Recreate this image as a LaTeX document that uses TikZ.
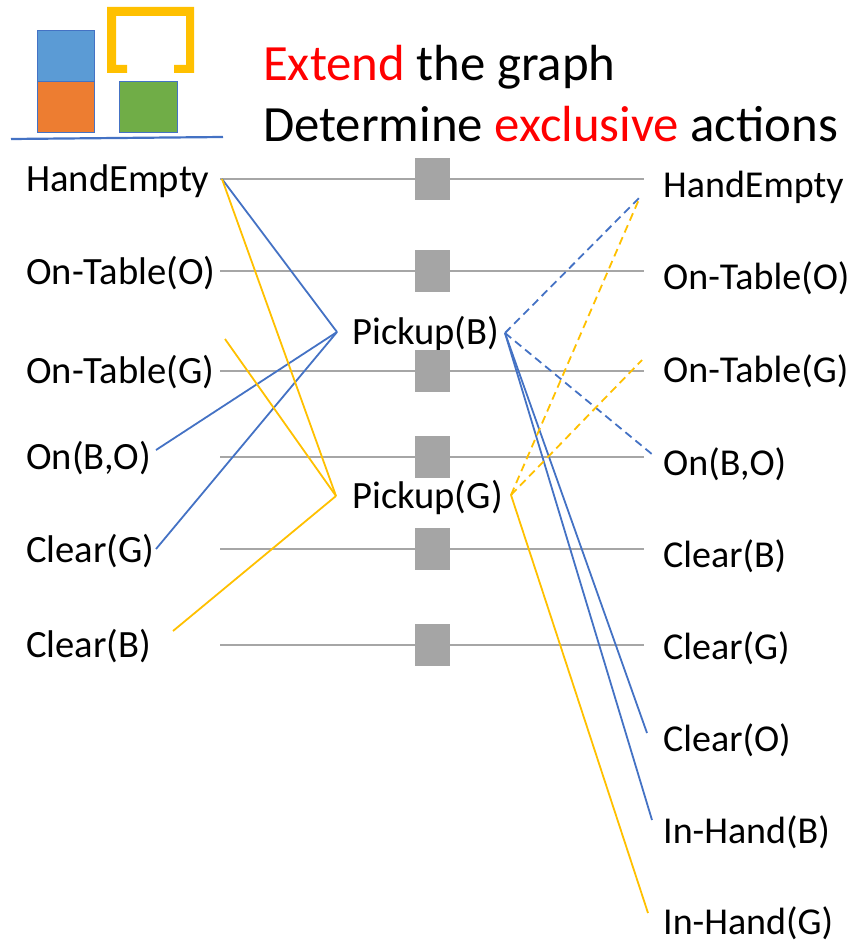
\documentclass[tikz,border=0pt]{standalone}
\usepackage{fontspec}
\setmainfont{Carlito}
\definecolor{edgeblue}{HTML}{4472C4}
\definecolor{edgegold}{HTML}{FFC000}
\definecolor{rulegray}{HTML}{A6A6A6}
\definecolor{boxgray}{HTML}{A5A5A5}
\definecolor{blockblue}{HTML}{5B9BD5}
\definecolor{blockorange}{HTML}{ED7D31}
\definecolor{blockgreen}{HTML}{70AD47}
\definecolor{hilite}{HTML}{FF0000}

\tikzset{
  fact/.style={anchor=base west, inner sep=0pt, font=\fontsize{38.6}{40}\selectfont},
  factR/.style={anchor=base west, inner sep=0pt, font=\fontsize{38}{40}\selectfont},
  headline/.style={anchor=base west, inner sep=0pt, font=\fontsize{50.8}{54}\selectfont},
  noop/.style={fill=boxgray, minimum width=35pt, minimum height=42pt, inner sep=0pt},
  persist/.style={draw=rulegray, line width=2.3pt},
  bluelink/.style={draw=edgeblue, line width=1.8pt},
  goldlink/.style={draw=edgegold, line width=1.8pt},
  mutex/.style={dash pattern=on 8pt off 5pt},
  block/.style={draw=edgeblue, line width=1pt},
}

\begin{document}
\begin{tikzpicture}[x=1pt, y=-1pt]
\useasboundingbox (0,0) rectangle (855,944);

% ---- blocks world sketch ----
\fill[blockblue] (37,31) rectangle (94,82);
\draw[block] (37,31) rectangle (94,82);
\fill[blockorange] (37,82) rectangle (94,133);
\draw[block] (37,82) rectangle (94,133);
\fill[blockgreen] (119,82) rectangle (177,133);
\draw[block] (119,82) rectangle (177,133);
\fill[edgegold] (107,7) -- (194,7) -- (194,73) -- (174,73) -- (174,65) -- (186,65)
  -- (186,16) -- (116,16) -- (116,65) -- (127,65) -- (127,73) -- (107,73) -- cycle;
\draw[draw=edgeblue, line width=2.2pt] (11,139) -- (223,137);

% ---- headline ----
\node[headline] (t1) at (263,81) {\textcolor{hilite}{Extend} the graph};
\node[headline] (t2) at (263,142) {Determine \textcolor{hilite}{exclusive} actions};

% ---- level 0 facts ----
\node[fact] (l1) at (26,192) {HandEmpty};
\node[fact] (l2) at (26,284) {On-Table(O)};
\node[fact] (l3) at (26,383) {On-Table(G)};
\node[fact] (l4) at (26,469) {On(B,O)};
\node[fact] (l5) at (26,562) {Clear(G)};
\node[fact] (l6) at (26,657) {Clear(B)};

% ---- level 1 facts ----
\node[factR] (r1) at (663,197) {HandEmpty};
\node[factR] (r2) at (663,289) {On-Table(O)};
\node[factR] (r3) at (663,382) {On-Table(G)};
\node[factR] (r4) at (663,475) {On(B,O)};
\node[factR] (r5) at (663,567) {Clear(B)};
\node[factR] (r6) at (663,659) {Clear(G)};
\node[factR] (r7) at (663,751) {Clear(O)};
\node[factR] (r8) at (663,843) {In-Hand(B)};
\node[factR] (r9) at (663,934) {In-Hand(G)};

% ---- actions ----
\node[fact] (pb) at (352,344) {Pickup(B)};
\node[fact] (pg) at (352,508) {Pickup(G)};

% ---- persistence (no-op) lines ----
\foreach \i/\y in {1/179, 2/271, 3/371, 4/457, 5/549, 6/645} {
  \coordinate (pin\i) at (220,\y);
  \coordinate (pout\i) at (644,\y);
  \draw[persist] (pin\i) -- (pout\i) node[noop, midway] (np\i) {};
}

% ---- connection points ----
\coordinate (heL) at (222,179);
\coordinate (otgL) at (225,339);
\coordinate (onboL) at (156,450);
\coordinate (clgL) at (156,549);
\coordinate (clbL) at (173,631);
\coordinate (pbL) at (337,332);
\coordinate (pbR) at (505,333);
\coordinate (pgL) at (336,496);
\coordinate (pgR) at (511,495);
\coordinate (heR) at (640,197);
\coordinate (otgR) at (642,360);
\coordinate (onboR) at (653,455);
\coordinate (cloR) at (647,733);
\coordinate (ihbR) at (652,820);
\coordinate (ihgR) at (648,913);

% ---- preconditions ----
\draw[bluelink] (heL) -- (pbL);
\draw[bluelink] (onboL) -- (pbL);
\draw[bluelink] (clgL) -- (pbL);
\draw[goldlink] (heL) -- (pgL);
\draw[goldlink] (otgL) -- (pgL);
\draw[goldlink] (clbL) -- (pgL);

% ---- effects ----
\draw[bluelink, mutex] (pbR) -- (heR);
\draw[bluelink, mutex] (pbR) -- (onboR);
\draw[bluelink] (pbR) -- (cloR);
\draw[bluelink] (pbR) -- (ihbR);
\draw[goldlink, mutex] (pgR) -- (heR);
\draw[goldlink, mutex] (pgR) -- (otgR);
\draw[goldlink] (pgR) -- (ihgR);
\end{tikzpicture}
\end{document}
